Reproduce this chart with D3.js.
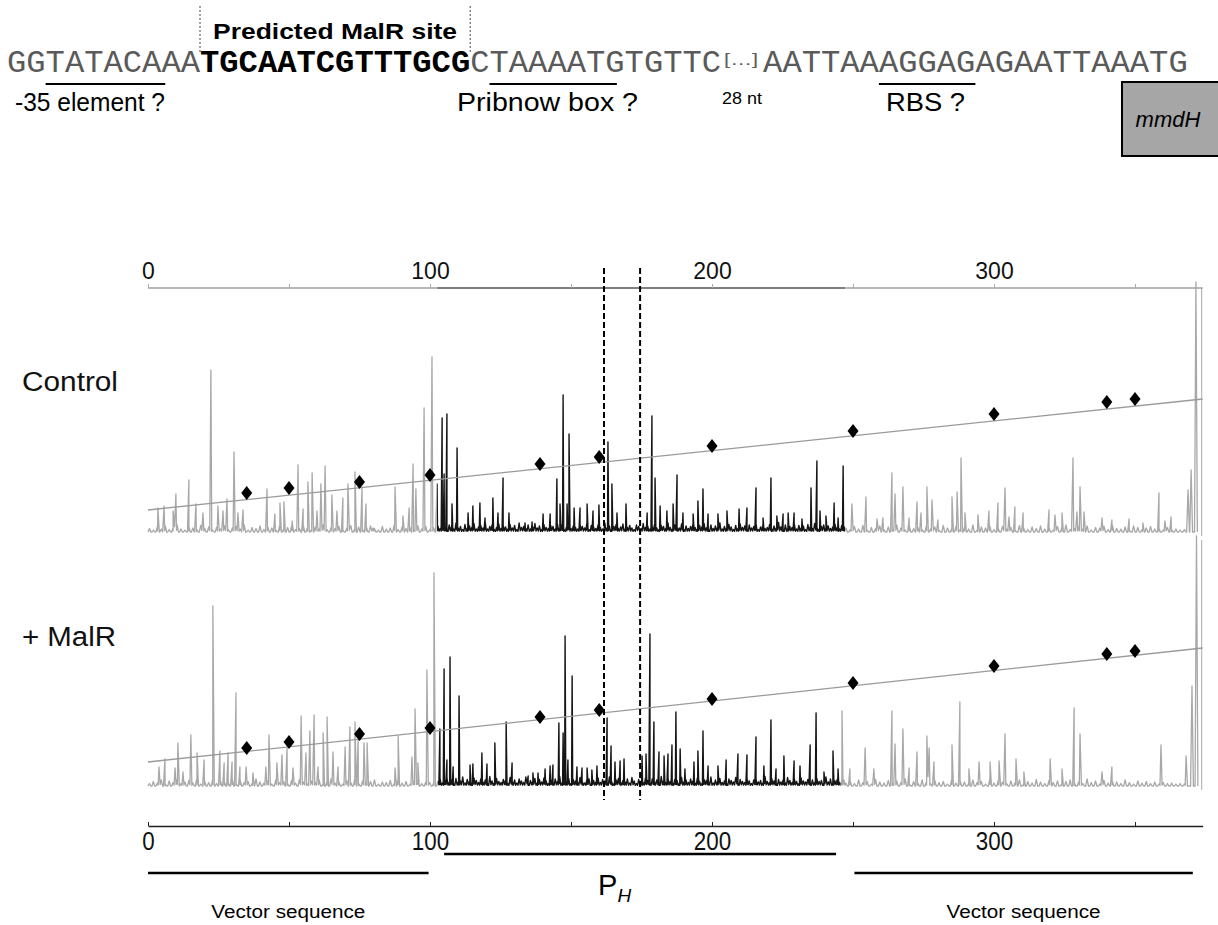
<!DOCTYPE html>
<html><head><meta charset="utf-8">
<script src="https://cdn.jsdelivr.net/npm/d3@7"></script>
<style>body{margin:0;background:#fff}svg{display:block}</style>
</head><body><svg id="c" width="1218" height="925"></svg>
<script>
// ---------------- DATA ----------------
const axisTicks = [0, 50, 100, 150, 200, 250, 300, 350];
const axisLabels = [0, 100, 200, 300];
const sizeStd = [35, 50, 75, 100, 139, 160, 200, 250, 300, 340, 350];
const ctrlStd = [390, 440, 500, 570, 680, 750, 860, 1010, 1180, 1300, 1330];
const malrStd = [380, 440, 520, 580, 690, 760, 870, 1030, 1200, 1320, 1350];
const fitX = [0, 374];
const ctrlFit = [220, 1330];
const malrFit = [240, 1380];
const ctrlProbe = [102.5, 247.2];
const malrProbe = [102.8, 245.6];
const footprint = [161.7, 174.5];
const regionSpans = [[0, 99.5], [105, 244], [250.5, 370.5]];
const regionNames = ["Vector sequence", "P", "Vector sequence"];
const panelNames = ["Control", "+ MalR"];
const seqParts = ["GGTATACAAA", "TGCAATCGTTTGCG", "CTAAAATGTGTTC", "[\u2026]", "AATTAAAGGAGAGAATTAAATG"];
const seqNotes = ["-35 element ?", "Pribnow box ?", "28 nt", "RBS ?"];

// peaks: [size (nt), signal]
const ctrlPeaks = [
[3.5,240],[5.7,260],[8.9,210],[9.9,380],[14.5,520],[17.0,280],[19.5,190],[22.3,1620],[24.8,260],[26.6,210],[28.0,330],[30.5,800],[31.9,190],[33.7,220],[42.2,430],[45.0,180],[46.8,290],[48.2,300],[51.1,110],[53.2,670],[55.0,230],[56.7,500],[58.2,590],[59.9,210],[61.3,480],[62.8,660],[65.2,370],[67.0,210],[69.1,340],[70.9,480],[73.4,600],[75.9,440],[77.3,280],[79.8,40],[87.6,450],[90.4,160],[92.6,240],[94.0,680],[95.0,430],[97.9,1240],[100.7,1750],
[102.5,480],[104.3,1140],[105.0,580],[106.0,1180],[107.8,280],[109.6,840],[113.5,190],[115.2,260],[117.7,290],[119.5,140],[122.3,340],[124.1,190],[125.9,540],[128.0,190],[133.7,90],[136.2,100],[140.1,180],[142.6,180],[145.0,530],[146.1,280],[147.2,1370],[148.6,280],[149.3,980],[151.1,240],[153.2,240],[155.7,280],[157.8,210],[159.9,270],[163.1,900],[164.5,480],[166.3,190],[169.5,280],[177.0,190],[178.7,1160],[179.8,540],[181.6,260],[184.0,210],[186.2,280],[187.6,570],[189.7,190],[193.3,180],[195.0,310],[196.8,430],[198.6,180],[202.1,180],[205.3,210],[209.6,230],[212.4,240],[215.6,440],[218.1,140],[220.9,540],[223.0,160],[225.2,180],[227.0,190],[229.1,190],[231.9,130],[235.1,440],[237.2,710],[238.3,210],[240.4,160],[243.3,290],[244.7,140],[246.5,660],
[249.6,280],[254.6,350],[258.5,130],[260.6,140],[263.8,590],[264.9,380],[267.7,450],[269.9,140],[272.7,300],[274.1,190],[276.2,450],[278.0,320],[280.1,120],[285.1,350],[286.9,400],[288.3,740],[289.7,190],[294.3,170],[298.2,210],[301.4,290],[303.9,440],[305.3,150],[307.4,250],[310.3,190],[319.5,220],[321.6,170],[324.1,190],[328.0,740],[329.4,200],[330.5,450],[331.9,200],[338.3,140],[341.8,120],[347.9,130],[352.8,90],[358.5,390],[360.6,110],[362.8,150],[368.8,420],[369.9,620],[371.6,2500]
];
const malrPeaks = [
[3.9,190],[6.0,270],[9.6,180],[10.6,430],[12.4,140],[15.2,510],[17.4,330],[19.9,260],[23.0,1800],[25.5,350],[27.0,230],[28.4,330],[29.8,240],[31.2,930],[32.6,190],[34.8,190],[37.2,130],[41.8,190],[42.9,510],[45.7,230],[47.5,310],[49.3,380],[51.4,180],[54.3,700],[56.0,330],[57.4,550],[58.9,710],[60.3,190],[62.1,530],[63.5,690],[65.6,340],[67.4,190],[69.9,390],[71.6,590],[73.4,640],[74.5,460],[76.6,430],[77.7,430],[87.6,180],[88.7,500],[93.6,290],[94.7,770],[95.7,230],[98.9,1160],[101.4,2130],
[103.5,570],[105.0,1170],[106.0,260],[107.1,1290],[108.2,190],[110.3,900],[114.2,210],[115.2,220],[118.4,330],[120.2,220],[123.0,430],[127.0,640],[129.1,230],[134.8,100],[136.5,130],[138.3,130],[140.8,170],[142.6,200],[143.6,210],[145.7,630],[147.2,530],[147.9,1500],[148.9,260],[150.4,1100],[152.1,190],[153.9,180],[155.7,180],[157.4,160],[159.2,200],[162.8,680],[164.2,400],[165.6,240],[167.4,250],[168.8,270],[175.2,300],[176.6,320],[178.0,1520],[179.4,640],[181.2,340],[183.0,300],[184.4,320],[185.8,410],[187.2,740],[188.7,370],[190.4,170],[193.6,240],[195.0,350],[196.8,550],[198.6,200],[202.1,200],[205.0,260],[209.2,320],[212.4,310],[215.6,490],[218.4,200],[220.9,660],[222.7,170],[225.5,300],[229.1,250],[231.2,200],[234.8,410],[236.9,730],[239.7,140],[242.9,350],[244.7,170],
[246.1,750],[248.9,170],[254.3,380],[257.4,170],[263.8,750],[264.9,420],[267.7,570],[269.9,180],[272.7,340],[276.2,500],[277.0,380],[278.7,240],[285.1,410],[287.9,840],[291.1,170],[294.7,240],[298.6,240],[301.8,250],[303.9,520],[307.8,270],[310.6,140],[319.9,270],[324.1,170],[328.4,780],[330.5,520],[338.3,140],[341.8,190],[359.2,410],[368.1,300],[370.2,1000],[371.8,2500]
];

// baseline ripple read as successive small signals, three stretches (start nt, step nt)
const rippleStart = [0.5, 102.8, 247.5];
const rippleStep = [1.4, 0.8, 1.5];
const ctrlRipple = [
[35,20,50,30,60,25,45,70,30,20,55,40,25,65,35,50,20,45,30,60,25,40,55,30,70,20,45,35,60,25,50,40,20,65,30,45,55,25,35,60,40,20,50,30,70,25,45,35,55,20,40,65,30,50,25,45,60,35,20,55,30,40,70,25,50,35,45,20,60,30,55,25,40],
[60,35,80,45,25,70,50,30,90,40,55,25,75,35,60,45,85,30,50,65,40,95,30,55,70,25,45,80,35,60,50,30,75,40,65,25,90,45,55,35,70,30,50,85,40,60,25,75,45,35,65,55,30,80,40,70,25,50,95,35,60,45,30,75,55,40,85,25,65,50,35,70,45,30,90,40,60,25,55,75,35,50,80,30,45,65,40,25,70,55,35,85,45,60,30,50,75,40,25,65,55,35,90,45,30,70,50,40,80,25,60,35,55,75,45,30,65,50,85,40,25,70,35,60,45,90,30,55,40,75,50,25,65,35,80,45,60,30,70,40,55,85,25,50,65,35,45,75,30,60,40,95,50,25,70,35,55,45,80,30,65,40,60,25,75,50,35,85,45,30,55,70,40,60,35,50,80,45,30,65,55],
[40,25,55,30,65,20,45,35,60,25,50,30,70,40,20,55,35,45,25,60,30,50,20,65,40,35,55,25,45,30,70,20,50,40,60,25,35,55,30,45,20,65,40,25,50,35,60,30,45,20,55,40,70,25,35,50,30,60,20,45,40,55,25,65,35,30,50,20,60,45,25,40,55,30,35,20,45,25,30,20,25]
];
const malrRipple = [
[25,45,30,60,20,50,35,65,25,40,55,30,70,20,45,35,60,25,50,40,30,65,20,55,35,45,25,70,40,30,50,20,60,35,45,25,55,30,65,40,20,50,35,60,25,45,70,30,40,20,55,35,65,25,50,30,45,60,20,40,35,55,25,70,30,45,20,50,60,25,40,35,30],
[45,70,30,55,85,35,60,25,75,40,50,90,30,65,45,25,80,55,35,70,40,60,25,95,50,30,75,45,35,65,55,25,85,40,60,30,70,50,35,90,25,55,45,75,30,65,40,80,50,25,60,35,70,45,95,30,55,40,75,25,65,50,35,85,45,30,60,70,25,55,40,80,35,65,50,30,90,45,25,60,75,35,55,40,70,30,85,50,25,65,45,35,80,55,30,70,40,60,25,95,50,35,75,45,30,65,55,25,85,40,60,35,70,50,30,80,45,25,65,55,40,90,30,60,45,75,35,50,25,70,55,40,85,30,65,45,35,80,50,25,60,70,40,55,30,95,45,35,75,50,25,65,40,60,30,85,55,35,70,45,25,80,50,40,65,30,60,35,75,45,55,25,90,40,70,30,50,65,35,45,60],
[30,50,25,60,35,45,20,65,40,30,55,25,50,35,70,20,45,30,60,40,25,55,35,45,20,65,30,50,40,25,60,35,45,20,70,30,55,40,25,50,35,60,20,45,30,65,40,25,55,35,50,20,45,60,30,40,25,70,35,50,20,55,30,45,40,25,60,35,20,50,30,45,25,40,20,35,25,30,20,25,20]
];

// ---------------- DRAW ----------------
const svg = d3.select("#c");
const SANS = "'Liberation Sans', Arial, sans-serif";
const MONO = "'Liberation Mono', 'Courier New', monospace";
const x = d3.scaleLinear().domain([0, 374]).range([148, 1202.7]);

// header sequence
const hdr = svg.append("g");
const cw = 19.3, seqY = 72;
const segX = [];
let cx = 7;
seqParts.forEach((s, i) => {
  segX.push(cx);
  const isGap = i === 3;
  const w = isGap ? 42 : s.length * cw;
  hdr.append("text").attr("x", isGap ? cx + 3 : cx).attr("y", isGap ? 65 : seqY)
    .text(s)
    .attr("font-family", isGap ? SANS : MONO)
    .attr("font-size", isGap ? 16 : 31)
    .attr("font-weight", i === 1 ? "bold" : "normal")
    .attr("fill", i === 1 ? "#000" : "#5a5a5a")
    .attr("textLength", isGap ? 34 : w).attr("lengthAdjust", "spacingAndGlyphs");
  cx += w;
});
hdr.append("text").attr("x", 213).attr("y", 39).text("Predicted MalR site")
  .attr("font-family", SANS).attr("font-weight", "bold").attr("font-size", 22)
  .attr("textLength", 244).attr("lengthAdjust", "spacingAndGlyphs");
[segX[1], segX[2]].forEach(px => hdr.append("line").attr("x1", px).attr("x2", px)
  .attr("y1", 6).attr("y2", 52).attr("stroke", "#444").attr("stroke-width", 1)
  .attr("stroke-dasharray", "2,2"));
const marks = [[0, 2, 8.2], [2, 1, 7.6], [4, 6, 11]];
marks.forEach(m => hdr.append("line")
  .attr("x1", segX[m[0]] + m[1] * cw).attr("x2", segX[m[0]] + m[2] * cw)
  .attr("y1", 84).attr("y2", 84).attr("stroke", "#000").attr("stroke-width", 2));
const noteX = [15, 457, 722, 886], noteY = [111, 111, 104, 111], noteFs = [25, 26, 16, 26];
const noteW = [150, 181, 40, 79];
seqNotes.forEach((n, i) => hdr.append("text").attr("x", noteX[i]).attr("y", noteY[i]).text(n)
  .attr("font-family", SANS).attr("font-size", noteFs[i])
  .attr("textLength", noteW[i]).attr("lengthAdjust", "spacingAndGlyphs"));
hdr.append("rect").attr("x", 1122).attr("y", 82).attr("width", 110).attr("height", 74)
  .attr("fill", "#a6a6a6").attr("stroke", "#000").attr("stroke-width", 2);
hdr.append("text").attr("x", 1168).attr("y", 127).attr("text-anchor", "middle").text("mmdH")
  .attr("font-family", SANS).attr("font-style", "italic").attr("font-size", 22);

// ---------- panels ----------
const panels = [
  { name: panelNames[0], peaks: ctrlPeaks, ripple: ctrlRipple, std: ctrlStd, fit: ctrlFit, probe: ctrlProbe, base: 532, labelY: 391 },
  { name: panelNames[1], peaks: malrPeaks, ripple: malrRipple, std: malrStd, fit: malrFit, probe: malrProbe, base: 786, labelY: 646 }
];
const W = 0.5;
function verts(peaks) {
  const p = peaks.slice().sort((a, b) => a[0] - b[0]);
  const v = [[p[0][0] - W, 0]];
  p.forEach((d, i) => {
    v.push([d[0], d[1]]);
    const n = p[i + 1];
    if (n) {
      if (n[0] - d[0] > 2 * W) v.push([d[0] + W, 0], [n[0] - W, 0]);
      else v.push([(d[0] + n[0]) / 2, Math.min(d[1], n[1]) * 0.25]);
    } else v.push([d[0] + W, 0]);
  });
  return v;
}
const defs = svg.append("defs");
panels.forEach((P, k) => {
  const y = d3.scaleLinear().domain([0, 2500]).range([P.base, P.base - 250]);
  const all = P.peaks.slice();
  P.ripple.forEach((arr, j) => arr.forEach((h, i) => all.push([rippleStart[j] + i * rippleStep[j], h])));
  const v = verts(all);
  const line = d3.line().x(d => x(d[0])).y(d => y(d[1]));
  defs.append("clipPath").attr("id", "out" + k).selectAll("rect")
    .data([[0, P.probe[0]], [P.probe[1], 380]]).join("rect")
    .attr("x", d => d[0] === 0 ? 0 : x(d[0])).attr("y", 0)
    .attr("width", d => d[0] === 0 ? x(d[1]) : 400).attr("height", 925);
  defs.append("clipPath").attr("id", "in" + k).append("rect")
    .attr("x", x(P.probe[0])).attr("y", 0).attr("width", x(P.probe[1]) - x(P.probe[0])).attr("height", 925);
  const g = svg.append("g");
  g.append("line").attr("x1", x(374) - 1).attr("x2", x(374) - 1).attr("y1", k === 0 ? 288 : 540).attr("y2", P.base + 4)
    .attr("stroke", "#aaa").attr("stroke-width", 1);
  g.append("path").attr("d", line(v)).attr("fill", "none").attr("stroke", "#a8a8a8")
    .attr("stroke-width", 1.3).attr("stroke-linejoin", "round").attr("clip-path", `url(#out${k})`);
  g.append("path").attr("d", line(v)).attr("fill", "none").attr("stroke", "#151515")
    .attr("stroke-width", 1.4).attr("stroke-linejoin", "round").attr("clip-path", `url(#in${k})`);
  g.append("path").attr("d", d3.line().x((d, i) => x(fitX[i])).y(d => y(d))(P.fit))
    .attr("fill", "none").attr("stroke", "#9a9a9a").attr("stroke-width", 1.3);
  g.selectAll("path.std").data(sizeStd).join("path").attr("class", "std")
    .attr("transform", (d, i) => `translate(${x(d)},${y(P.std[i])})`)
    .attr("d", "M0,-7L5.5,0L0,7L-5.5,0Z").attr("fill", "#000");
  g.append("text").attr("x", 22).attr("y", P.labelY).text(P.name)
    .attr("font-family", SANS).attr("font-size", 27).attr("fill", "#111")
    .attr("textLength", k === 0 ? 96 : 94).attr("lengthAdjust", "spacingAndGlyphs");
});

// top axis
const topY = 288;
const gT = svg.append("g").attr("transform", `translate(0,${topY})`);
const segs = [[0, ctrlProbe[0], "#a0a0a0"], [ctrlProbe[0], ctrlProbe[1], "#555"], [ctrlProbe[1], 374, "#a0a0a0"]];
segs.forEach(s => gT.append("line").attr("x1", x(s[0])).attr("x2", x(s[1])).attr("stroke", s[2]).attr("stroke-width", 1.6));
const axT = d3.axisTop(x).tickValues(axisTicks).tickFormat(d => axisLabels.includes(d) ? d : "")
  .tickSizeInner(4).tickSizeOuter(0).tickPadding(5);
gT.call(axT);
gT.select(".domain").remove();
gT.selectAll(".tick line").attr("stroke", "#aaa");
gT.selectAll(".tick text").attr("font-family", SANS).attr("font-size", 23).attr("fill", "#111");

// dashed footprint lines
svg.selectAll("line.fp").data(footprint).join("line").attr("class", "fp")
  .attr("x1", d => x(d)).attr("x2", d => x(d)).attr("y1", 268).attr("y2", 800)
  .attr("stroke", "#000").attr("stroke-width", 2).attr("stroke-dasharray", "6,3");

// bottom axis
const botY = 826;
const gB = svg.append("g").attr("transform", `translate(0,${botY})`);
const axB = d3.axisBottom(x).tickValues(axisTicks).tickFormat(d => axisLabels.includes(d) ? d : "")
  .tickSizeInner(-4).tickSizeOuter(0).tickPadding(6);
gB.call(axB);
gB.select(".domain").attr("stroke", "#222").attr("stroke-width", 1.5);
gB.selectAll(".tick line").attr("stroke", "#222");
gB.selectAll(".tick text").attr("font-family", SANS).attr("font-size", 26).attr("fill", "#111")
  .each(function () { const n = this.getComputedTextLength(); if (n) d3.select(this).attr("textLength", n * 0.86).attr("lengthAdjust", "spacingAndGlyphs"); });

// region annotations
const regY = [873, 854, 873];
regionSpans.forEach((s, i) => {
  svg.append("line").attr("x1", x(s[0])).attr("x2", x(s[1])).attr("y1", regY[i]).attr("y2", regY[i])
    .attr("stroke", "#000").attr("stroke-width", 2.5);
  const cxm = (x(s[0]) + x(s[1])) / 2;
  if (i === 1) {
    const t = svg.append("text").attr("x", cxm - 42).attr("y", 895).attr("font-family", SANS).attr("font-size", 29);
    t.append("tspan").text(regionNames[i]);
    t.append("tspan").text("H").attr("font-size", 19).attr("font-style", "italic").attr("dy", 7);
  } else {
    svg.append("text").attr("x", cxm).attr("y", 918).attr("text-anchor", "middle").text(regionNames[i])
      .attr("font-family", SANS).attr("font-size", 18)
      .attr("textLength", 154).attr("lengthAdjust", "spacingAndGlyphs");
  }
});
</script></body></html>
